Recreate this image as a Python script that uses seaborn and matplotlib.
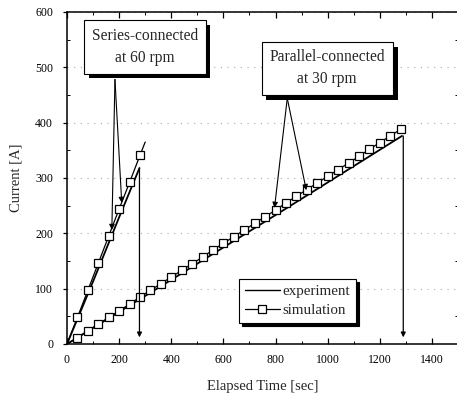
import numpy as np
import pandas as pd
import matplotlib
matplotlib.use("Agg")
import matplotlib.pyplot as plt
import matplotlib.patheffects as pe
from matplotlib.lines import Line2D
from matplotlib.ticker import MultipleLocator
import seaborn as sns

# ---- data ----
# series-connected, 60 rpm
series_sim_t = [0, 40, 80, 120, 160, 200, 240, 280, 300]
series_sim_i = [0, 48, 97, 146, 195, 244, 292, 341, 365]
series_exp_t = [0, 100, 200, 278]
series_exp_i = [0, 113, 229, 318]

# parallel-connected, 30 rpm
par_sim_t = [0, 40, 80, 120, 160, 200, 240, 280, 320, 360, 400, 440, 480, 520,
             560, 600, 640, 680, 720, 760, 800, 840, 880, 920, 960, 1000, 1040,
             1080, 1120, 1160, 1200, 1240, 1280]
par_sim_i = [0, 11, 24, 36, 48, 60, 72, 85, 97, 109, 121, 133, 145, 157,
             170, 182, 194, 206, 218, 230, 242, 255, 267, 279, 291, 303, 315,
             327, 339, 352, 364, 376, 388]
par_exp_t = [0, 400, 800, 1285]
par_exp_i = [0, 116, 233, 376]

# end-of-run markers (vertical arrows)
end_t = [278, 1290]
end_top = [318, 376]

sns.set_theme(style="ticks")
plt.rcParams['font.family'] = ['Liberation Serif', 'DejaVu Serif']

fig = plt.figure(figsize=(4.57, 3.99), dpi=100)
ax = fig.add_axes([67 / 457, 55 / 399, 391 / 457, 332 / 399])

df_ss = pd.DataFrame({"t": series_sim_t, "i": series_sim_i})
df_se = pd.DataFrame({"t": series_exp_t, "i": series_exp_i})
df_ps = pd.DataFrame({"t": par_sim_t, "i": par_sim_i})
df_pe = pd.DataFrame({"t": par_exp_t, "i": par_exp_i})

sim_kw = dict(color="black", lw=0.9, marker="s", markersize=5.3,
              markerfacecolor="white", markeredgecolor="black", markeredgewidth=0.9)
sns.lineplot(data=df_se, x="t", y="i", ax=ax, color="black", lw=1.3)
sns.lineplot(data=df_pe, x="t", y="i", ax=ax, color="black", lw=1.3)
sns.lineplot(data=df_ss, x="t", y="i", ax=ax, markevery=slice(1, 8), **sim_kw)
sns.lineplot(data=df_ps, x="t", y="i", ax=ax, markevery=slice(1, None), **sim_kw)

# vertical arrows marking end of each run
for t, top in zip(end_t, end_top):
    ax.annotate("", xy=(t, 12), xytext=(t, top),
                arrowprops=dict(arrowstyle="-|>", color="black", lw=0.9, mutation_scale=7,
                                shrinkA=0, shrinkB=0))

# callout boxes
def callout(text, xy_text, start, targets):
    txt = ax.text(xy_text[0], xy_text[1], text, ha="center", va="center", fontsize=11.2,
                  linespacing=1.5,
                  bbox=dict(boxstyle="square,pad=0.5", fc="white", ec="black", lw=0.8))
    txt.get_bbox_patch().set_path_effects([
        pe.SimplePatchShadow(offset=(3.5, -3.5), shadow_rgbFace="black", alpha=1),
        pe.Normal()])
    for tgt in targets:
        ax.annotate("", xy=tgt, xytext=start,
                    arrowprops=dict(arrowstyle="-|>", color="black", lw=0.8, mutation_scale=8,
                                    shrinkA=0, shrinkB=0))

callout("Series-connected\nat 60 rpm", (298, 537), (184, 478), [(172, 206), (210, 255)])
callout("Parallel-connected\nat 30 rpm", (998, 498), (845, 444), [(796, 246), (918, 278)])

ax.set_xlim(0, 1500)
ax.set_ylim(0, 600)
ax.xaxis.set_major_locator(MultipleLocator(200))
ax.xaxis.set_minor_locator(MultipleLocator(100))
ax.yaxis.set_major_locator(MultipleLocator(100))
ax.yaxis.set_minor_locator(MultipleLocator(50))
ax.tick_params(which="both", direction="in", top=True, right=True, colors="black",
               labelsize=8.5)
ax.tick_params(which="major", length=4, width=0.9)
ax.tick_params(which="minor", length=2, width=0.7)
ax.tick_params(axis="x", which="major", pad=7)
ax.tick_params(axis="y", which="major", direction="out", length=3, pad=7)
ax.grid(axis="y", which="major", color="#aaaaaa", ls=(0, (1, 5)), lw=0.8)
for s in ax.spines.values():
    s.set_color("black")
    s.set_linewidth(1.1)

ax.set_xlabel("Elapsed Time [sec]", fontsize=10.5, labelpad=10)
ax.set_ylabel("Current [A]", fontsize=10.5, labelpad=9)

handles = [Line2D([], [], color="black", lw=1.0),
           Line2D([], [], **sim_kw)]
leg = ax.legend(handles, ["experiment", "simulation"], loc="lower left",
                bbox_to_anchor=(0.44, 0.063), fontsize=10.8, frameon=True, fancybox=False,
                edgecolor="black", framealpha=1, handlelength=2.3, handletextpad=0.2,
                borderpad=0.4, labelspacing=0.35, borderaxespad=0,
                shadow={"color": "black", "alpha": 1})
leg.get_frame().set_linewidth(0.8)

fig.savefig("out.png", dpi=100)
